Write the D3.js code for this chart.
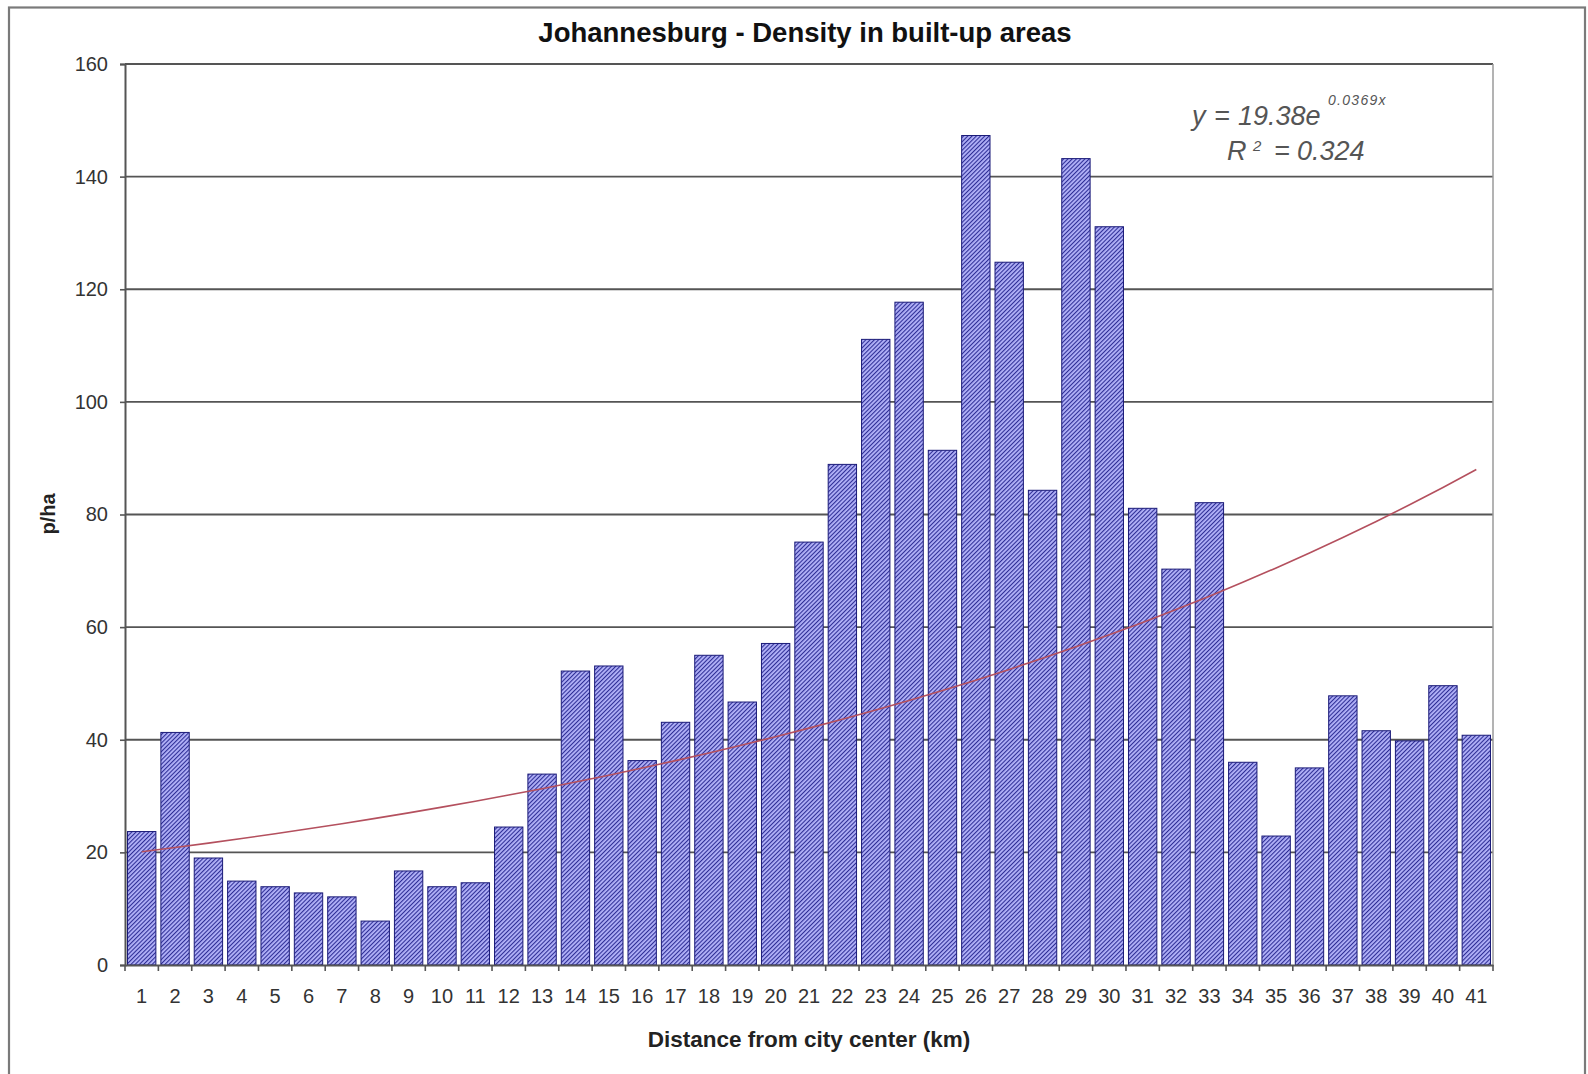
<!DOCTYPE html>
<html>
<head>
<meta charset="utf-8">
<script src="https://cdn.jsdelivr.net/npm/d3@7"></script>
<style>
  html, body { margin: 0; padding: 0; background: #ffffff; }
  svg { display: block; }
  text { font-family: "Liberation Sans", Arial, sans-serif; }
</style>
</head>
<body>
<svg id="chart" width="1588" height="1074"></svg>
<script>
// ---- Data ----
const categories = ["1","2","3","4","5","6","7","8","9","10","11","12","13","14","15","16","17","18","19","20","21","22","23","24","25","26","27","28","29","30","31","32","33","34","35","36","37","38","39","40","41"];
const densities = [23.7, 41.3, 19.0, 14.9, 13.9, 12.8, 12.1, 7.8, 16.7, 13.9, 14.6, 24.5, 33.9, 52.2, 53.1, 36.3, 43.1, 55.0, 46.7, 57.1, 75.1, 88.9, 111.1, 117.7, 91.4, 147.3, 124.8, 84.3, 143.2, 131.1, 81.1, 70.3, 82.1, 36.0, 22.9, 35.0, 47.8, 41.6, 39.8, 49.6, 40.8];
const yTicks = [0, 20, 40, 60, 80, 100, 120, 140, 160];
const trendA = 19.38;      // from the chart's equation label
const trendB = 0.0369;
const trendR2 = "0.324";
const titleText = "Johannesburg - Density in built-up areas";
const xTitle = "Distance from city center (km)";
const yTitle = "p/ha";

// ---- Layout ----
const svg = d3.select("#chart");
const plot = { left: 125, right: 1493, top: 64, bottom: 965 };

const xCat = d3.scaleBand().domain(categories).range([plot.left, plot.right]).padding(0);
const xBar = d3.scaleBand().domain(categories).range([plot.left, plot.right])
  .paddingInner(0.15).paddingOuter(0.075);
const y = d3.scaleLinear().domain([0, 160]).range([plot.bottom, plot.top]);

// outer frame
svg.append("rect").attr("x", 9).attr("y", 7.5).attr("width", 1576).attr("height", 1100)
  .attr("fill", "none").attr("stroke", "#7a7a7a").attr("stroke-width", 2.2);

// hatch pattern
const defs = svg.append("defs");
const pat = defs.append("pattern").attr("id", "hatch").attr("patternUnits", "userSpaceOnUse")
  .attr("width", 3).attr("height", 3).attr("patternTransform", "rotate(45)");
pat.append("rect").attr("width", 3).attr("height", 3).attr("fill", "#8888f0");
pat.append("line").attr("x1", 0.55).attr("y1", 0).attr("x2", 0.55).attr("y2", 3)
  .attr("stroke", "#2a2a92").attr("stroke-width", 1.0);
pat.append("line").attr("x1", 2.1).attr("y1", 0).attr("x2", 2.1).attr("y2", 3)
  .attr("stroke", "#e4e4ff").attr("stroke-width", 0.8);

// gridlines
svg.append("g").selectAll("line").data(yTicks.filter(d => d > 0)).join("line")
  .attr("x1", plot.left).attr("x2", plot.right)
  .attr("y1", d => y(d)).attr("y2", d => y(d))
  .attr("stroke", "#555").attr("stroke-width", 1.8);

// right plot border
svg.append("line").attr("x1", plot.right).attr("x2", plot.right)
  .attr("y1", plot.top).attr("y2", plot.bottom)
  .attr("stroke", "#9a9a9a").attr("stroke-width", 1.5);

// bars
svg.append("g").selectAll("rect").data(categories).join("rect")
  .attr("x", d => xBar(d))
  .attr("width", xBar.bandwidth())
  .attr("y", (d, i) => y(densities[i]))
  .attr("height", (d, i) => y(0) - y(densities[i]))
  .attr("fill", "url(#hatch)")
  .attr("stroke", "#1a1a78").attr("stroke-width", 1);

// trend line
const line = d3.line()
  .x(d => xCat(d) + xCat.bandwidth() / 2)
  .y(d => y(trendA * Math.exp(trendB * (+d))))
  .curve(d3.curveMonotoneX);
svg.append("path").datum(categories).attr("d", line)
  .attr("fill", "none").attr("stroke", "#b4505e").attr("stroke-width", 1.6);

// y axis
const yAxis = d3.axisLeft(y).tickValues(yTicks).tickSize(5).tickPadding(12);
const gy = svg.append("g").attr("transform", `translate(${plot.left},0)`).call(yAxis);
gy.select(".domain").attr("stroke", "#555").attr("stroke-width", 2);
gy.selectAll(".tick line").attr("stroke", "#555").attr("stroke-width", 1.6);
gy.selectAll(".tick text").attr("font-size", 20).attr("fill", "#333")
  .attr("font-family", "Liberation Sans, Arial, sans-serif");

// x axis (labels at category centers, ticks at boundaries)
const xAxis = d3.axisBottom(xCat).tickSize(0).tickPadding(24);
const gx = svg.append("g").attr("transform", `translate(0,${plot.bottom})`).call(xAxis);
gx.select(".domain").attr("stroke", "#555").attr("stroke-width", 2);
gx.selectAll(".tick text").attr("font-size", 20).attr("fill", "#333")
  .attr("font-family", "Liberation Sans, Arial, sans-serif");
const bounds = categories.map(d => xCat(d)).concat([xCat(categories[categories.length - 1]) + xCat.step()]);
gx.append("g").selectAll("line").data(bounds).join("line")
  .attr("x1", d => d).attr("x2", d => d).attr("y1", 0).attr("y2", 6)
  .attr("stroke", "#555").attr("stroke-width", 1.6);

// titles
svg.append("text").attr("x", 805).attr("y", 42).attr("text-anchor", "middle")
  .attr("font-size", 27.5).attr("font-weight", "bold").attr("fill", "#111").text(titleText);
svg.append("text").attr("x", 809).attr("y", 1047).attr("text-anchor", "middle")
  .attr("font-size", 22.5).attr("font-weight", "bold").attr("fill", "#222").text(xTitle);
svg.append("text").attr("transform", "translate(55,514) rotate(-90)").attr("text-anchor", "middle")
  .attr("font-size", 20).attr("font-weight", "bold").attr("fill", "#222").text(yTitle);

// equation label
const eq = svg.append("text").attr("font-size", 27)
  .attr("font-style", "italic").attr("fill", "#555");
eq.append("tspan").attr("x", 1192).attr("y", 125).text("y");
eq.append("tspan").attr("x", 1214).attr("y", 125).text("=");
eq.append("tspan").attr("x", 1238).attr("y", 125).text(`${trendA}e`);
eq.append("tspan").attr("x", 1328).attr("y", 105).attr("font-size", 14)
  .attr("letter-spacing", 1.3).text(`${trendB}x`);
const r2 = svg.append("text").attr("font-size", 27)
  .attr("font-style", "italic").attr("fill", "#555");
r2.append("tspan").attr("x", 1227).attr("y", 160).text("R");
r2.append("tspan").attr("x", 1253).attr("y", 151).attr("font-size", 15).text("2");
r2.append("tspan").attr("x", 1274).attr("y", 160).text("=");
r2.append("tspan").attr("x", 1297).attr("y", 160).text(trendR2);
</script>
</body>
</html>
